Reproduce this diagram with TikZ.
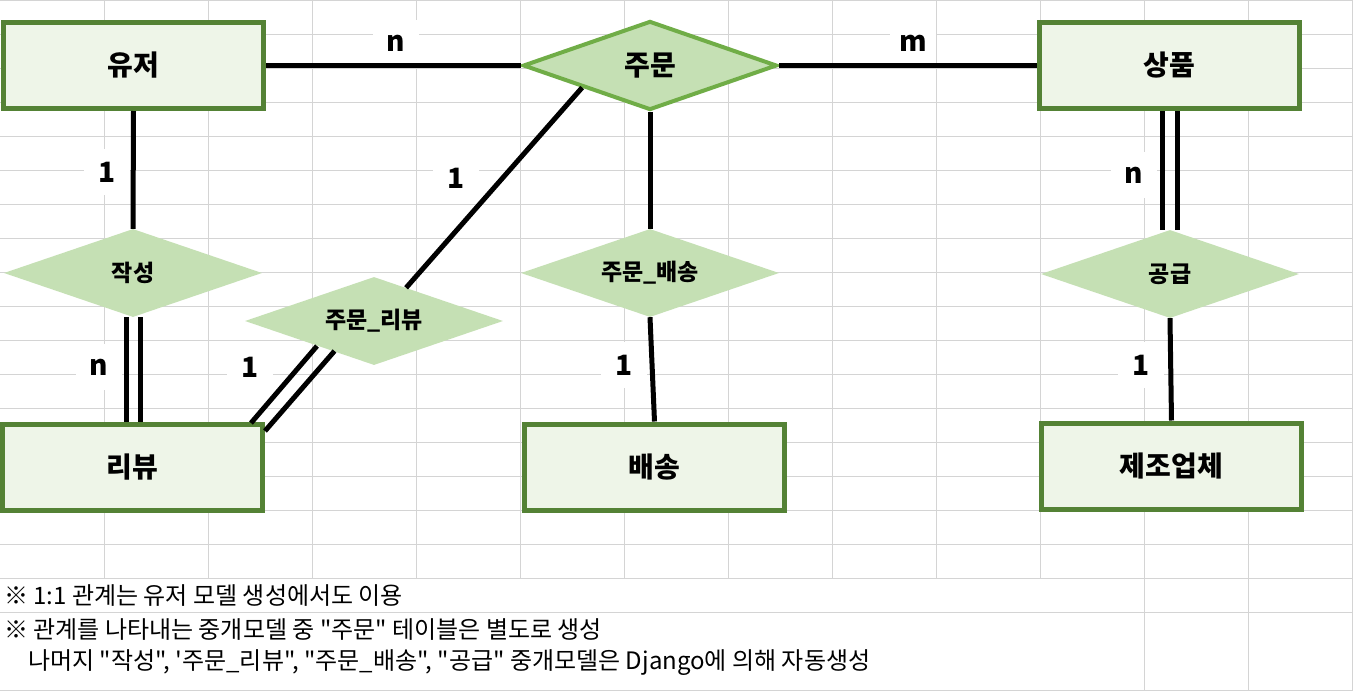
\documentclass[tikz,border=0pt]{standalone}
\usepackage{fontspec}
\newfontfamily\kr{Noto Sans CJK KR}
\usetikzlibrary{shapes.geometric,calc}
\definecolor{gridc}{HTML}{D4D4D4}
\definecolor{entborder}{HTML}{548235}
\definecolor{entfill}{HTML}{EEF5E8}
\definecolor{relfill}{HTML}{C5E0B4}
\definecolor{relborder}{HTML}{70AD47}
\begin{document}
\begin{tikzpicture}[x=1pt,y=-1pt,
 entity/.style={draw=entborder,line width=5pt,fill=entfill,minimum width=260pt,minimum height=86pt,inner sep=0pt,font=\kr\bfseries\fontsize{28}{32}\selectfont},
 rel/.style={diamond,fill=relfill,aspect=2.9,inner sep=0pt,minimum width=258pt,minimum height=88pt,font=\kr\bfseries\fontsize{23}{26}\selectfont},
 relmain/.style={rel,draw=relborder,line width=4pt,minimum width=254pt,minimum height=89pt,font=\kr\bfseries\fontsize{28}{32}\selectfont},
 card/.style={fill=white,inner sep=0pt,minimum width=46pt,minimum height=46pt,font=\kr\bfseries\fontsize{28}{32}\selectfont},
 conn/.style={line width=5pt},
 gridline/.style={draw=gridc,line width=1pt},
 note/.style={anchor=west,inner sep=0pt,font=\kr\fontsize{24}{28}\selectfont}]
\useasboundingbox (0,0) rectangle (1353,691);
\fill[white] (0,0) rectangle (1353,691);
% grid
\foreach \i in {1,...,13} \draw[gridline] (\i*104,0) -- (\i*104,578);
\foreach \i in {1144,1248,1352} \draw[gridline] (\i,578) -- (\i,691);
\draw[gridline] (0,0.5) -- (1353,0.5);
\foreach \j in {1,...,18} \draw[gridline] (0,\j*34) -- (1353,\j*34);
\draw[gridline] (0,690) -- (1353,690);
% cardinality labels
\node[card] (c1) at (396,43) {n};
\node[card] (c2) at (913,43) {m};
\node[card] (c3) at (107,172) {1};
\node[card] (c4) at (456,178) {1};
\node[card] (c5) at (1133.5,175) {n};
\node[card] (c6) at (99,367) {n};
\node[card] (c7) at (250,367) {1};
\node[card] (c8) at (624,365) {1};
\node[card] (c9) at (1141,365) {1};
% entities
\node[entity] (user) at (133.5,65.5) {유저};
\node[entity] (product) at (1169.5,65.5) {상품};
\node[entity] (review) at (132,467) {리뷰};
\node[entity] (delivery) at (654.5,467) {배송};
\node[entity] (maker) at (1171.5,466) {제조업체};
% relations
\node[relmain] (order) at (650,65.5) {주문};
\node[rel] (write) at (133,273) {작성};
\node[rel] (orv) at (374,321) {주문\_리뷰};
\node[rel] (oship) at (650,273) {주문\_배송};
\node[rel] (supply) at (1170,274) {공급};
% connectors
\draw[conn] (user.east) -- (order.west);
\draw[conn] (order.east) -- (product.west);
\draw[conn] (user.south) -- (write.north);
\draw[conn] ([xshift=-7pt]write.south) -- ([xshift=-7pt]write.south |- review.north);
\draw[conn] ([xshift=7pt]write.south) -- ([xshift=7pt]write.south |- review.north);
\draw[conn] (order.198) -- (orv.46);
\draw[conn] ($(orv)+(-57,25)$) -- ($(review)+(119,-44)$);
\draw[conn] ($(orv)+(-39.5,30)$) -- ($(review)+(133,-36)$);
\draw[conn] (order.south) -- (oship.north);
\draw[conn] (oship.south) -- (delivery.north);
\draw[conn] ([xshift=-7.5pt]supply.north |- product.south) -- ([xshift=-7.5pt]supply.north);
\draw[conn] ([xshift=7pt]supply.north |- product.south) -- ([xshift=7pt]supply.north);
\draw[conn] (supply.south) -- (maker.north);
% notes
\node[note] (n1) at (4,596) {※ 1:1 관계는 유저 모델 생성에서도 이용};
\node[note] (n2) at (4,630) {※ 관계를 나타내는 중개모델 중 "주문" 테이블은 별도로 생성};
\node[note] (n3) at (28,663) {나머지 "작성", '주문\_리뷰", "주문\_배송", "공급" 중개모델은 Django에 의해 자동생성};
\end{tikzpicture}
\end{document}
